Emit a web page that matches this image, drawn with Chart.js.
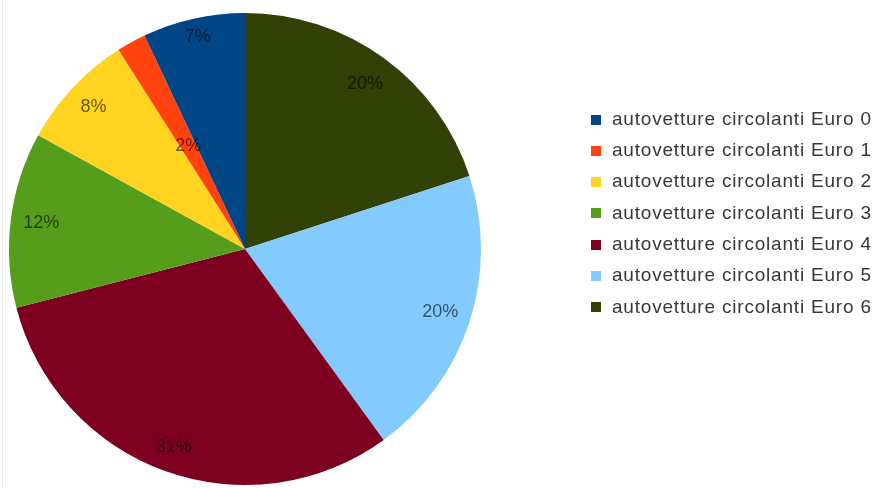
<!DOCTYPE html>
<html>
<head>
<meta charset="utf-8">
<script src="https://cdn.jsdelivr.net/npm/chart.js@4.4.0/dist/chart.umd.min.js"></script>
<style>
  html, body { margin: 0; padding: 0; background: #fff; }
  #wrap { width: 878px; height: 488px; }
</style>
</head>
<body>
<div id="wrap"><canvas id="graficoEuro" width="878" height="488"></canvas></div>
<script>
// Categorie e quote (%) del parco autovetture
const categorie = [
  'autovetture circolanti Euro 0',
  'autovetture circolanti Euro 1',
  'autovetture circolanti Euro 2',
  'autovetture circolanti Euro 3',
  'autovetture circolanti Euro 4',
  'autovetture circolanti Euro 5',
  'autovetture circolanti Euro 6'
];
const percentuali = [7, 2, 8, 12, 31, 20, 20];
const colori = ['#004586', '#ff420e', '#ffd320', '#579d1c', '#7e0021', '#83caff', '#314004'];

// distanza delle etichette dal centro, in frazione del raggio
const distEtichette = [0.92, 0.5, 0.88, 0.87, 0.89, 0.87, 0.865];

// la torta parte da Euro 6 in senso orario, quindi il dataset va invertito
const ordine = categorie.map((_, i) => categorie.length - 1 - i);

const FONT_FETTE = '18px "Liberation Sans", Arial, sans-serif';
const FONT_LEGENDA = '19px "Liberation Sans", Arial, sans-serif';

// Etichette percentuali dentro le fette
const etichettePercentuali = {
  id: 'etichettePercentuali',
  afterDatasetsDraw(chart) {
    const ctx = chart.ctx;
    const meta = chart.getDatasetMeta(0);
    const valori = chart.data.datasets[0].data;
    ctx.save();
    ctx.font = FONT_FETTE;
    ctx.fillStyle = 'rgba(0, 0, 0, 0.6)';
    ctx.textAlign = 'center';
    ctx.textBaseline = 'middle';
    meta.data.forEach((arc, j) => {
      const { x, y, startAngle, endAngle, outerRadius } =
        arc.getProps(['x', 'y', 'startAngle', 'endAngle', 'outerRadius'], true);
      const a = (startAngle + endAngle) / 2;
      const r = outerRadius * distEtichette[ordine[j]];
      ctx.fillText(valori[j] + '%', x + Math.cos(a) * r, y + Math.sin(a) * r);
    });
    ctx.restore();
  }
};

// Legenda a destra, da Euro 0 a Euro 6
const legenda = {
  id: 'legenda',
  beforeDraw(chart) {
    const ctx = chart.ctx;
    ctx.save();
    ctx.fillStyle = '#e6e6e6';
    ctx.fillRect(2, 0, 1, chart.height);
    ctx.restore();
  },
  afterDraw(chart) {
    const ctx = chart.ctx;
    ctx.save();
    ctx.font = FONT_LEGENDA;
    ctx.letterSpacing = '0.8px';
    ctx.textBaseline = 'middle';
    categorie.forEach((nome, i) => {
      const y = 119.5 + i * 31.3;
      ctx.fillStyle = colori[i];
      ctx.fillRect(591, Math.round(y - 5), 10, 10);
      ctx.fillStyle = '#383838';
      ctx.fillText(nome, 612, y);
    });
    ctx.restore();
  }
};

new Chart(document.getElementById('graficoEuro'), {
  type: 'pie',
  data: {
    labels: ordine.map(i => categorie[i]),
    datasets: [{
      data: ordine.map(i => percentuali[i]),
      backgroundColor: ordine.map(i => colori[i]),
      borderWidth: 0
    }]
  },
  options: {
    responsive: false,
    animation: false,
    layout: { padding: { left: 9, right: 397, top: 13, bottom: 3 } },
    plugins: {
      legend: { display: false },
      tooltip: { enabled: false }
    }
  },
  plugins: [etichettePercentuali, legenda]
});
</script>
</body>
</html>
